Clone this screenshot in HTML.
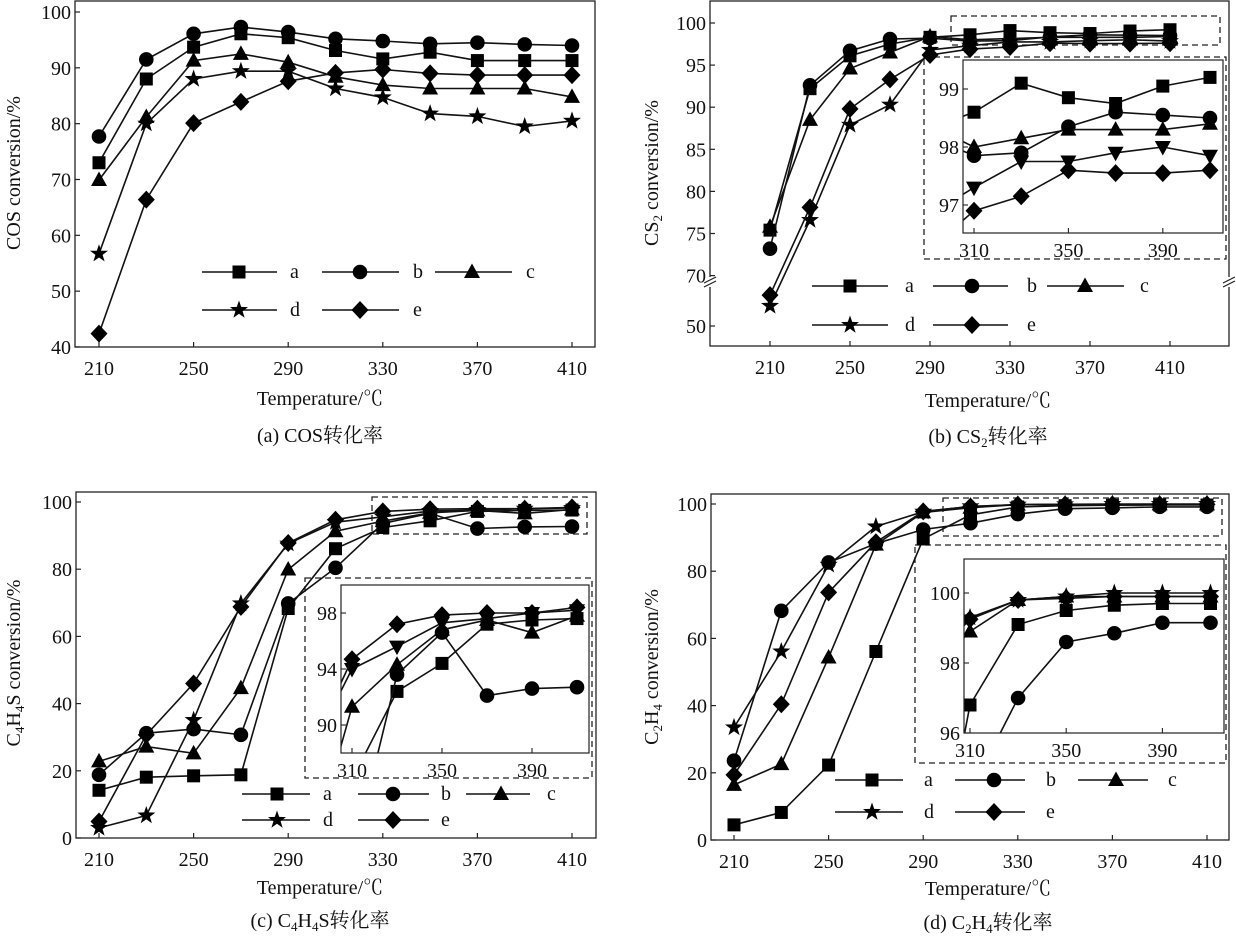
<!DOCTYPE html>
<html><head><meta charset="utf-8"><style>
html,body{margin:0;padding:0;background:#fff;width:1236px;height:941px;overflow:hidden;}
svg{display:block;font-family:"Liberation Serif","Noto Serif CJK SC",serif;}
</style></head><body>
<svg id="fig" width="1236" height="941" viewBox="0 0 1236 941" xmlns="http://www.w3.org/2000/svg">
<defs>
<clipPath id="clipB"><rect x="963" y="60" width="260" height="173"/></clipPath>
<clipPath id="clipC"><rect x="341" y="585" width="248" height="168"/></clipPath>
<clipPath id="clipD"><rect x="964" y="559" width="260" height="174"/></clipPath>
</defs>
</svg>
<script>
const temps = [210,230,250,270,290,310,330,350,370,390,410];
const seriesNames = ['a','b','c','d','e'];
// (a) COS
const cosA = [73,88,93.7,96.1,95.4,93.1,91.6,92.8,91.3,91.3,91.3];
const cosB = [77.7,91.5,96.1,97.3,96.4,95.2,94.8,94.3,94.5,94.2,94.0];
const cosC = [69.9,81.2,91.3,92.5,91.0,88.4,86.9,86.3,86.3,86.3,84.8];
const cosD = [56.7,80,88,89.4,89.4,86.3,84.7,81.8,81.3,79.5,80.5];
const cosE = [42.4,66.4,80.1,83.9,87.6,89.1,89.7,89.0,88.7,88.7,88.7];
// (b) CS2
const cs2A = [75.4,92.2,96.1,97.5,98.3,98.6,99.1,98.85,98.75,99.05,99.2];
const cs2B = [73.2,92.6,96.7,98.1,98.2,97.85,97.9,98.35,98.6,98.55,98.5];
const cs2C = [75.8,88.5,94.6,96.5,98.4,98.0,98.15,98.3,98.3,98.3,98.4];
const cs2D = [58.2,76.6,87.9,90.3,96.8,97.3,97.75,97.75,97.9,98.0,97.85];
const cs2E = [62.6,78.1,89.8,93.3,96.2,96.9,97.15,97.6,97.55,97.55,97.6];
// (c) C4H4S
const thA = [14.2,18.1,18.5,18.8,68.3,86.1,92.4,94.4,97.2,97.5,97.6];
const thB = [18.8,31.2,32.4,30.7,69.8,80.4,93.6,96.6,92.1,92.6,92.7];
const thC = [22.8,27.2,25.2,44.6,79.9,91.3,94.3,96.8,97.5,96.6,97.8];
const thD = [3,6.7,35.1,69.8,87.6,94,95.6,97.3,97.6,98.0,98.2];
const thE = [4.9,30.7,46,68.8,87.8,94.7,97.2,97.85,98.0,98.0,98.4];
// (d) C2H4
const etA = [4.5,8.2,22.3,56.1,89.6,96.8,99.1,99.5,99.65,99.7,99.7];
const etB = [23.6,68.2,82.6,88.2,92.4,94.3,97.0,98.6,98.85,99.15,99.15];
const etC = [16.4,22.6,54.3,87.9,97.5,98.9,99.8,99.9,99.9,99.9,99.9];
const etD = [33.5,56.1,81.9,93.3,97.7,99.3,99.8,99.9,100,100,100];
const etE = [19.4,40.4,73.7,88.6,97.8,99.25,99.8,99.85,99.9,99.9,99.9];
const cosTicks = [40,50,60,70,80,90,100];
const cs2Ticks = [50,70,75,80,85,90,95,100];
const pctTicks = [0,20,40,60,80,100];
const xTicks = [210,250,290,330,370,410];
const insetXTicks = [310,350,390];
const cs2InsetTicks = [97,98,99];
const thInsetTicks = [90,94,98];
const etInsetTicks = [96,98,100];

const FS=20;
const NS='http://www.w3.org/2000/svg';
const svg=document.getElementById('fig');
function mk(tag,attrs,parent){const e=document.createElementNS(NS,tag);for(const k in attrs)e.setAttribute(k,attrs[k]);(parent||svg).appendChild(e);return e;}
function marker(kind,x,y,s,parent){
  s=s||1;let e;
  if(kind==='sq'){e=mk('rect',{x:x-6.5*s,y:y-6.5*s,width:13*s,height:13*s,fill:'#000'},parent);}
  else if(kind==='ci'){e=mk('circle',{cx:x,cy:y,r:7.3*s,fill:'#000'},parent);}
  else if(kind==='tr'){e=mk('polygon',{points:`${x},${y-8.5*s} ${x+8*s},${y+6*s} ${x-8*s},${y+6*s}`,fill:'#000'},parent);}
  else if(kind==='td'){e=mk('polygon',{points:`${x},${y+8.5*s} ${x+8*s},${y-6*s} ${x-8*s},${y-6*s}`,fill:'#000'},parent);}
  else if(kind==='di'){e=mk('polygon',{points:`${x},${y-9*s} ${x+8.5*s},${y} ${x},${y+9*s} ${x-8.5*s},${y}`,fill:'#000'},parent);}
  else { let p=[];for(let i=0;i<10;i++){const r=(i%2?3.8:9.5)*s;const a=-Math.PI/2+i*Math.PI/5;p.push((x+r*Math.cos(a)).toFixed(1)+','+(y+r*Math.sin(a)).toFixed(1));}
    e=mk('polygon',{points:p.join(' '),fill:'#000'},parent);}
  return e;
}
function txt(s,x,y,anchor,size,parent){const t=mk('text',{x:x,y:y,'text-anchor':anchor||'middle','font-size':size||FS,fill:'#111'},parent);t.innerHTML=s;return t;}

function panel(P){
  const g=mk('g',{});
  
  
  const X=t=>P.x0+(t-210)/20*P.step;
  const [L,T,R,B]=P.box;
  mk('rect',{x:L,y:T,width:R-L,height:B-T,fill:'none',stroke:'#222','stroke-width':1.3},g);
  P.yticks.forEach(v=>{const y=P.Y(v);mk('line',{x1:L,x2:L+5,y1:y,y2:y,stroke:'#222','stroke-width':1.2},g);
    const t=txt(String(v),L-4,y+7,'end',FS,g);});
  xTicks.forEach(v=>{const x=X(v);mk('line',{x1:x,x2:x,y1:B,y2:B-5,stroke:'#222','stroke-width':1.2},g);
    const t=txt(String(v),x,B+28,'middle',FS,g);});
  const xt=txt('Temperature/℃',P.cx,P.xtY,'middle',FS,g);
  const cap=txt(P.caption,P.cx,P.capY,'middle',FS,g);
  const yt=mk('text',{x:0,y:0,'text-anchor':'middle','font-size':FS,fill:'#111',transform:`translate(${P.ytX},${P.ytY}) rotate(-90)`},g);
  yt.innerHTML=P.ytitle;
  if(P.dash){P.dash.forEach(d=>mk('rect',{x:d[0],y:d[1],width:d[2]-d[0],height:d[3]-d[1],fill:'none',stroke:'#222','stroke-width':1.3,'stroke-dasharray':'6,4'},g));}
  const kinds=['sq','ci','tr','st','di'];
  P.series.forEach((vals,si)=>{
    const sg=mk('g',{},g);
    
    
    const pts=vals.map((v,i)=>[X(temps[i]),P.Y(v)]);
    mk('polyline',{points:pts.map(p=>p[0].toFixed(1)+','+p[1].toFixed(1)).join(' '),fill:'none',stroke:'#111','stroke-width':1.6},sg);
    pts.forEach(p=>{const m=marker(kinds[si],p[0],p[1],1,sg);});
  });
  if(P.brk){P.brk.forEach(bx=>{mk('rect',{x:bx-4,y:P.brkY-5,width:8,height:10,fill:'#fff'},g);
    mk('line',{x1:bx-6,y1:P.brkY+1,x2:bx+6,y2:P.brkY-5,stroke:'#222','stroke-width':1.2},g);
    mk('line',{x1:bx-6,y1:P.brkY+5,x2:bx+6,y2:P.brkY-1,stroke:'#222','stroke-width':1.2},g);});}
  const lg=mk('g',{},g);
  P.legend.forEach((e,i)=>{const [x1,x2,mx,lx,y]=e;const eg=mk('g',{},lg);
    
    mk('line',{x1:x1,x2:x2,y1:y,y2:y,stroke:'#111','stroke-width':1.6},eg);marker(kinds[i],mx,y,1,eg);txt(seriesNames[i],lx,y+6,'start',FS,eg);});
  if(P.inset){const I=P.inset;const ig=mk('g',{},g);
    const [a,b,c,d]=I.box;
    mk('rect',{x:a,y:b,width:c-a,height:d-b,fill:'#fff',stroke:'none'},ig);
    const cg=mk('g',{'clip-path':`url(#${I.clip})`},ig);
    const ik=['sq','ci','tr',I.dk,'di'];
    P.series.forEach((vals,si)=>{const pts=vals.map((v,i)=>[I.X(temps[i]),I.Y(v)]);
      const sg=mk('g',{},cg);
      mk('polyline',{points:pts.map(p=>p[0].toFixed(1)+','+p[1].toFixed(1)).join(' '),fill:'none',stroke:'#111','stroke-width':1.6},sg);
      pts.forEach((p,i)=>{if(temps[i]>=310)marker(ik[si],p[0],p[1],1,sg);});});
    mk('rect',{x:a,y:b,width:c-a,height:d-b,fill:'none',stroke:'#222','stroke-width':1.2},ig);
    I.yticks.forEach(v=>{const y=I.Y(v);mk('line',{x1:a,x2:a+5,y1:y,y2:y,stroke:'#222','stroke-width':1.1},ig);txt(String(v),a-4,y+7,'end',FS,ig);});
    insetXTicks.forEach(v=>{const x=I.X(v);mk('line',{x1:x,x2:x,y1:d,y2:d-5,stroke:'#222','stroke-width':1.1},ig);txt(String(v),x,d+24,'middle',FS,ig);});
  }
}
const sub=(s)=>`<tspan font-size="13" dy="4">${s}</tspan><tspan dy="-4">`;
panel({name:'panel-a-cos',x0:99,step:47.3,box:[75,1,595,347],Y:v=>12+(100-v)*5.583,yticks:cosTicks,
  series:[cosA,cosB,cosC,cosD,cosE],cx:320,xtY:405,capY:442,caption:'(a) COS转化率',ytX:20,ytY:173,ytitle:'COS conversion/%',
  legend:[[202,277,239,290,272],[322,399,360,413,272],[435,512,472,526,272],[202,277,239,290,310],[322,399,360,413,310]]});
panel({name:'panel-b-cs2',x0:770,step:40,box:[710,1,1229,346],Y:v=>v>=70?23+(100-v)*8.42:326-(v-50)*2.45,yticks:cs2Ticks,
  series:[cs2A,cs2B,cs2C,cs2D,cs2E],cx:988,xtY:407,capY:443,caption:'(b) CS'+sub('2')+'转化率</tspan>',ytX:658,ytY:173,ytitle:'CS'+sub('2')+' conversion/%</tspan>',
  dash:[[951,16,1220,45],[924,57,1226,259]],brk:[710,1229],brkY:282,
  legend:[[812,888,850,905,286],[933,1008,972,1027,286],[1047,1124,1085,1140,286],[812,888,850,905,325],[933,1008,972,1027,325]],
  inset:{box:[963,60,1223,233],clip:'clipB',X:t=>974+(t-310)*2.36,Y:v=>89+(99-v)*58,yticks:cs2InsetTicks,dk:'td'}});
panel({name:'panel-c-c4h4s',x0:99,step:47.3,box:[76,492,596,838],Y:v=>838-v*3.36,yticks:pctTicks,
  series:[thA,thB,thC,thD,thE],cx:320,xtY:894,capY:927,caption:'(c) C'+sub('4')+'H'+sub('4')+'S转化率</tspan></tspan>',ytX:20,ytY:663,ytitle:'C'+sub('4')+'H'+sub('4')+'S conversion/%</tspan></tspan>',
  dash:[[372,497,587,534],[305,578,592,778]],
  legend:[[242,310,277,323,794],[358,429,393,441,794],[466,530,501,547,794],[242,310,277,323,820],[358,429,393,441,820]],
  inset:{box:[341,585,589,753],clip:'clipC',X:t=>352+(t-310)*2.25,Y:v=>613+(98-v)*14,yticks:thInsetTicks,dk:'td'}});
panel({name:'panel-d-c2h4',x0:734,step:47.3,box:[711,494,1229,840],Y:v=>840-v*3.36,yticks:pctTicks,
  series:[etA,etB,etC,etD,etE],cx:988,xtY:895,capY:929,caption:'(d) C'+sub('2')+'H'+sub('4')+'转化率</tspan></tspan>',ytX:658,ytY:667,ytitle:'C'+sub('2')+'H'+sub('4')+' conversion/%</tspan></tspan>',
  dash:[[943,498,1222,536],[915,545,1226,763]],
  legend:[[835,903,872,924,780],[955,1025,994,1046,780],[1078,1148,1116,1168,780],[835,903,872,924,812],[955,1025,994,1046,812]],
  inset:{box:[964,559,1224,733],clip:'clipD',X:t=>970+(t-310)*2.405,Y:v=>593+(100-v)*35,yticks:etInsetTicks,dk:'st'}});
</script>
</body></html>
